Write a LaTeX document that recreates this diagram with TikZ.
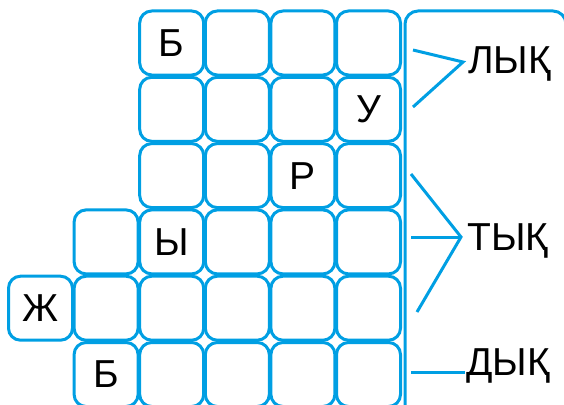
\documentclass[tikz,border=0pt]{standalone}
\usepackage{fontspec}
\setmainfont{Liberation Sans}
\definecolor{cy}{HTML}{009FE3}
\begin{document}
\begin{tikzpicture}[x=1pt,y=-1pt,
  cell/.style={draw=cy, line width=3pt, rounded corners=12pt,
    minimum width=64pt, minimum height=64pt, inner sep=0pt, outer sep=0pt,
    anchor=north west},
  letter/.style={font=\fontsize{39}{42}\selectfont, inner sep=0pt},
  panel/.style={draw=cy, line width=3pt, rounded corners=13pt,
    minimum width=161pt, minimum height=410pt, inner sep=0pt, outer sep=0pt,
    anchor=north west},
  lbl/.style={anchor=base west, inner sep=0pt, font=\fontsize{39}{42}\selectfont},
  conn/.style={draw=cy, line width=3pt}]
\useasboundingbox (0,0) rectangle (564,404);
\clip (0,0) rectangle (564,404);
% grid cells: rows 0..5
\foreach \r/\cs in {0/{2,3,4,5},1/{2,3,4,5},2/{2,3,4,5},3/{1,2,3,4,5},4/{0,1,2,3,4,5},5/{1,2,3,4,5}}{
  \foreach \c in \cs {
    \node[cell] (c\r\c) at ({8.5+65.6*\c},{11+66.3*\r}) {};
  }
}
\node[letter] at (c02) {Б};
\node[letter] at (c15) {У};
\node[letter] at (c24) {Р};
\node[letter] at (c32) {Ы};
\node[letter] at (c40) {Ж};
\node[letter] at (c51) {Б};
% right panel
\node[panel] (pan) at (405,11) {};
% labels
\node[lbl] (lyk) at (468,74) {ЛЫҚ};
\node[lbl] (tyk) at (467,250) {ТЫҚ};
\node[lbl] (dyk) at (466,375) {ДЫҚ};
% connector ends
\coordinate (l1) at (413,50);
\coordinate (l2) at (413,107);
\coordinate (la) at (463,62);
\coordinate (t1) at (411,174);
\coordinate (t2) at (411,237);
\coordinate (t3) at (417,312);
\coordinate (ta) at (461,237);
\coordinate (d1) at (411,372);
\coordinate (da) at (465,372);
\draw[conn] (l1) -- (la) -- (l2);
\draw[conn] (t1) -- (ta) -- (t3);
\draw[conn] (t2) -- (ta);
\draw[conn] (d1) -- (da);
\end{tikzpicture}
\end{document}
